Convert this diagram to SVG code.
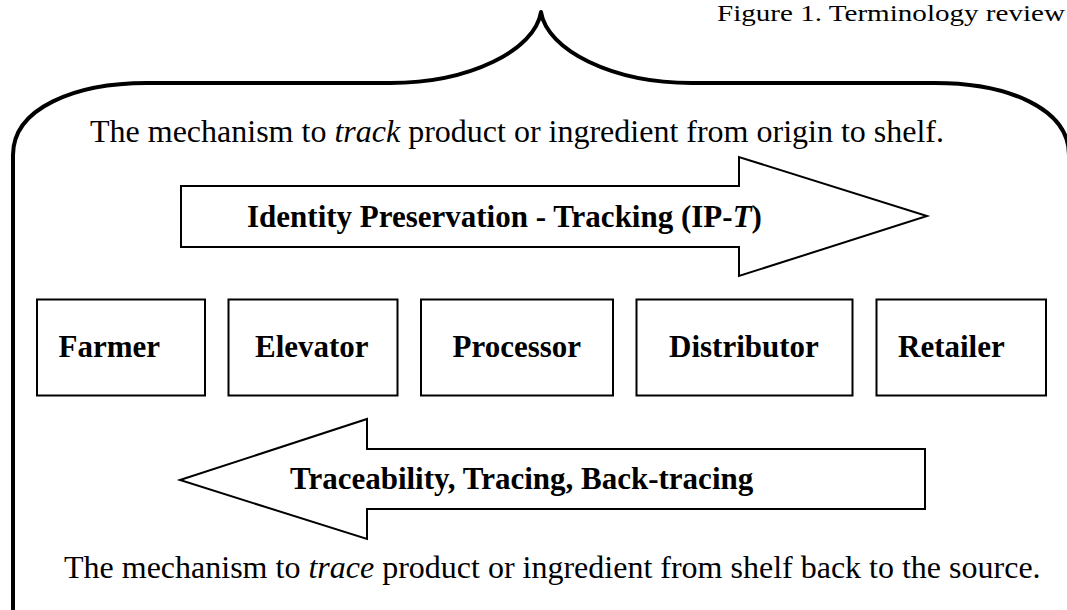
<svg xmlns="http://www.w3.org/2000/svg" width="1067" height="610" viewBox="0 0 1067 610">
  <style>
    .serif { font-family: "Liberation Serif", "Times New Roman", serif; fill: #000; }
    .plain { font-size: 32px; }
    .title { font-size: 23px; }
    .label { font-size: 31px; font-weight: bold; }
    .box { fill: #fff; stroke: #000; stroke-width: 2; }
    .arrow { fill: #fff; stroke: #000; stroke-width: 2; stroke-linejoin: miter; }
    .brace { fill: none; stroke: #000; stroke-width: 4; stroke-linejoin: round; }
  </style>

  <rect width="1067" height="610" fill="#fff"/>

  <!-- Caption -->
  <text id="caption" class="serif title" x="717" y="20.5" textLength="348" lengthAdjust="spacingAndGlyphs">Figure 1. Terminology review</text>

  <!-- Curly bracket spanning the whole chain -->
  <path id="bracket" class="brace"
        d="M13,610 L13,155 C13,108 75,83 147,83 L390,83 C470,83 535,50 541,12
           C547,50 612,83 692,83 L935,83 C1007,83 1069,108 1069,155"/>

  <!-- Description of tracking -->
  <text id="track-text" class="serif plain" x="90" y="141.7">The mechanism to <tspan font-style="italic">track</tspan> product or ingredient from origin to shelf.</text>

  <g id="connectors">
    <!-- Forward arrow: identity preservation / tracking -->
    <g id="arrow-tracking">
      <polygon class="arrow" points="181,186 739,186 739,157 927,216 739,276 739,247 181,247"/>
      <text class="serif label" x="247" y="227" font-size="32">Identity Preservation - Tracking (IP-<tspan font-style="italic">T</tspan>)</text>
    </g>
    <!-- Backward arrow: traceability -->
    <g id="arrow-tracing">
      <polygon class="arrow" points="180,480 367,419 367,449 925,449 925,509 367,509 367,539"/>
      <text class="serif label" x="290" y="489" font-size="31.5">Traceability, Tracing, Back-tracing</text>
    </g>
  </g>

  <!-- Supply chain actors -->
  <g id="farmer">
    <rect class="box" x="37" y="299.5" width="168" height="96"/>
    <text class="serif label" x="58.5" y="356.7">Farmer</text>
  </g>
  <g id="elevator">
    <rect class="box" x="228.5" y="299.5" width="169" height="96"/>
    <text class="serif label" x="255" y="356.7">Elevator</text>
  </g>
  <g id="processor">
    <rect class="box" x="421" y="299.5" width="192" height="96"/>
    <text class="serif label" x="452.5" y="356.7">Processor</text>
  </g>
  <g id="distributor">
    <rect class="box" x="636.5" y="299.5" width="216" height="96"/>
    <text class="serif label" x="669" y="356.7">Distributor</text>
  </g>
  <g id="retailer">
    <rect class="box" x="876.5" y="299.5" width="169.5" height="96"/>
    <text class="serif label" x="898" y="356.7">Retailer</text>
  </g>

  <!-- Description of tracing -->
  <text id="trace-text" class="serif plain" x="64" y="578">The mechanism to <tspan font-style="italic">trace</tspan> product or ingredient from shelf back to the source.</text>
</svg>
